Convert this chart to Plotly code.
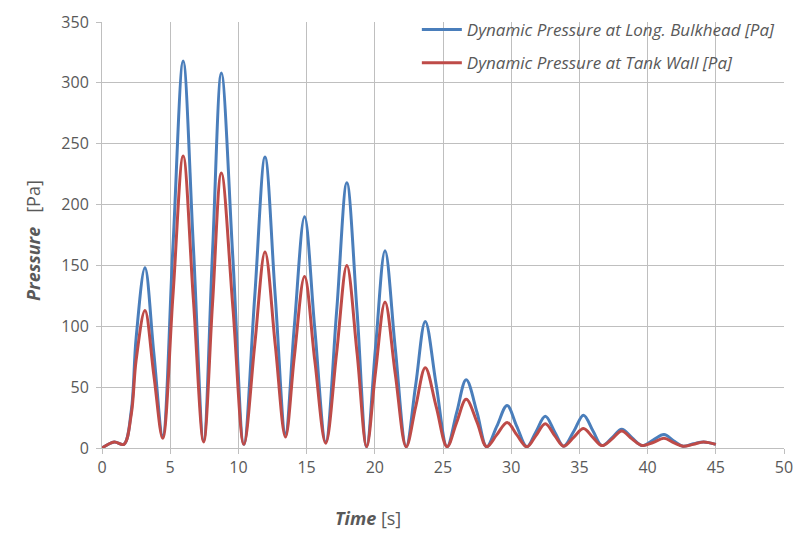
import plotly.graph_objects as go

# Time samples [s] and dynamic pressure readings [Pa]
time_s = [0.0, 0.9, 1.6, 2.15, 2.5, 3.15, 3.8, 4.45, 5.2, 5.95, 6.7, 7.45,
          8.1, 8.75, 9.6, 10.4, 11.2, 11.95, 12.7, 13.45, 14.1, 14.85, 15.6,
          16.4, 17.2, 17.95, 18.7, 19.4, 20.05, 20.75, 21.5, 22.3, 23.0,
          23.7, 24.5, 25.3, 26.0, 26.7, 27.5, 28.2, 28.95, 29.7, 30.4,
          31.15, 31.8, 32.5, 33.2, 33.85, 34.6, 35.3, 36.0, 36.65, 37.4,
          38.1, 38.85, 39.6, 40.4, 41.2, 41.9, 42.6, 43.35, 44.1, 45.0]

p_bulkhead = [0, 5, 3, 31, 90, 148, 78, 10, 165, 318, 165, 6,
              160, 308, 155, 3, 125, 239, 125, 12, 100, 190, 98,
              5, 112, 218, 112, 1, 82, 162, 82, 1, 52,
              104, 52, 1, 29, 56, 29, 1, 18, 35, 18,
              1, 13, 26, 13, 1.5, 14, 27, 14, 2, 8.5,
              15.5, 8.5, 2, 6.5, 11, 6, 1.5, 3.5, 5, 3]

p_tank_wall = [0, 5, 3, 28, 72, 113, 60, 8, 125, 240, 122, 5,
               118, 226, 115, 3, 85, 161, 85, 9, 75, 141, 72,
               4, 78, 150, 78, 1, 62, 120, 61, 1, 34,
               66, 34, 1, 21, 40, 21, 1, 11, 21, 11,
               1, 10, 20, 10, 1.5, 9, 16, 8.5, 2, 7.5,
               14, 7.5, 2, 4.5, 8, 4.5, 1.5, 3, 5, 3]

x_ticks = [0, 5, 10, 15, 20, 25, 30, 35, 40, 45, 50]
y_ticks = [0, 50, 100, 150, 200, 250, 300, 350]

BLUE = "#4A7EBB"
RED = "#BE4B48"
GREY_TEXT = "#595959"
GRID = "#BFBFBF"
FONT = "'Open Sans', Lato, sans-serif"

# plot-area geometry in pixels
W, H = 803, 534
L, R, T, B = 102, 10, 22, 86
PW, PH = W - L - R, H - T - B

fig = go.Figure()
fig.add_trace(go.Scatter(
    x=time_s, y=p_bulkhead, mode="lines",
    line=dict(color=BLUE, width=3, shape="spline", smoothing=1.0),
    name="<i>Dynamic Pressure at Long. Bulkhead [Pa]</i>",
    legendgroup="a",
))
fig.add_trace(go.Scatter(
    x=time_s, y=p_tank_wall, mode="lines",
    line=dict(color=RED, width=3, shape="spline", smoothing=1.0),
    name="<i>Dynamic Pressure at Tank Wall [Pa]</i>",
    legendgroup="b",
))

axis_common = dict(
    showgrid=True, gridcolor=GRID, gridwidth=1,
    showline=True, linecolor=GRID, linewidth=1,
    ticks="outside", ticklen=5, tickcolor=GRID,
    tickfont=dict(family=FONT, size=16, color=GREY_TEXT),
    zeroline=False,
)

fig.update_xaxes(range=[0, 50], tickvals=x_ticks, **axis_common)
fig.update_yaxes(range=[0, 350], tickvals=y_ticks, ticklabelstandoff=4,
                 **axis_common)

fig.add_annotation(
    text="<b><i>Time</i></b> [s]", xref="paper", yref="paper",
    x=(372 - L) / PW, y=-(518 - (T + PH)) / PH, showarrow=False,
    font=dict(family=FONT, size=18, color=GREY_TEXT),
    xanchor="center", yanchor="middle",
)
fig.add_annotation(
    text="<b><i>Pressure</i></b>   [Pa]", xref="paper", yref="paper",
    x=-(L - 32) / PW, y=((T + PH) - 240) / PH, showarrow=False,
    textangle=-90,
    font=dict(family=FONT, size=18, color=GREY_TEXT),
    xanchor="center", yanchor="middle",
)

fig.update_layout(
    width=W, height=H,
    margin=dict(l=L, r=R, t=T, b=B),
    paper_bgcolor="white", plot_bgcolor="white",
    font=dict(family=FONT, color=GREY_TEXT),
    legend=dict(
        x=(421 - L) / PW, y=1 + 10 / PH, xanchor="left", yanchor="top",
        bgcolor="rgba(0,0,0,0)", borderwidth=0,
        font=dict(family=FONT, size=17, color=GREY_TEXT),
        tracegroupgap=8, itemwidth=40,
    ),
    showlegend=True,
)

fig.write_html("out.html")
